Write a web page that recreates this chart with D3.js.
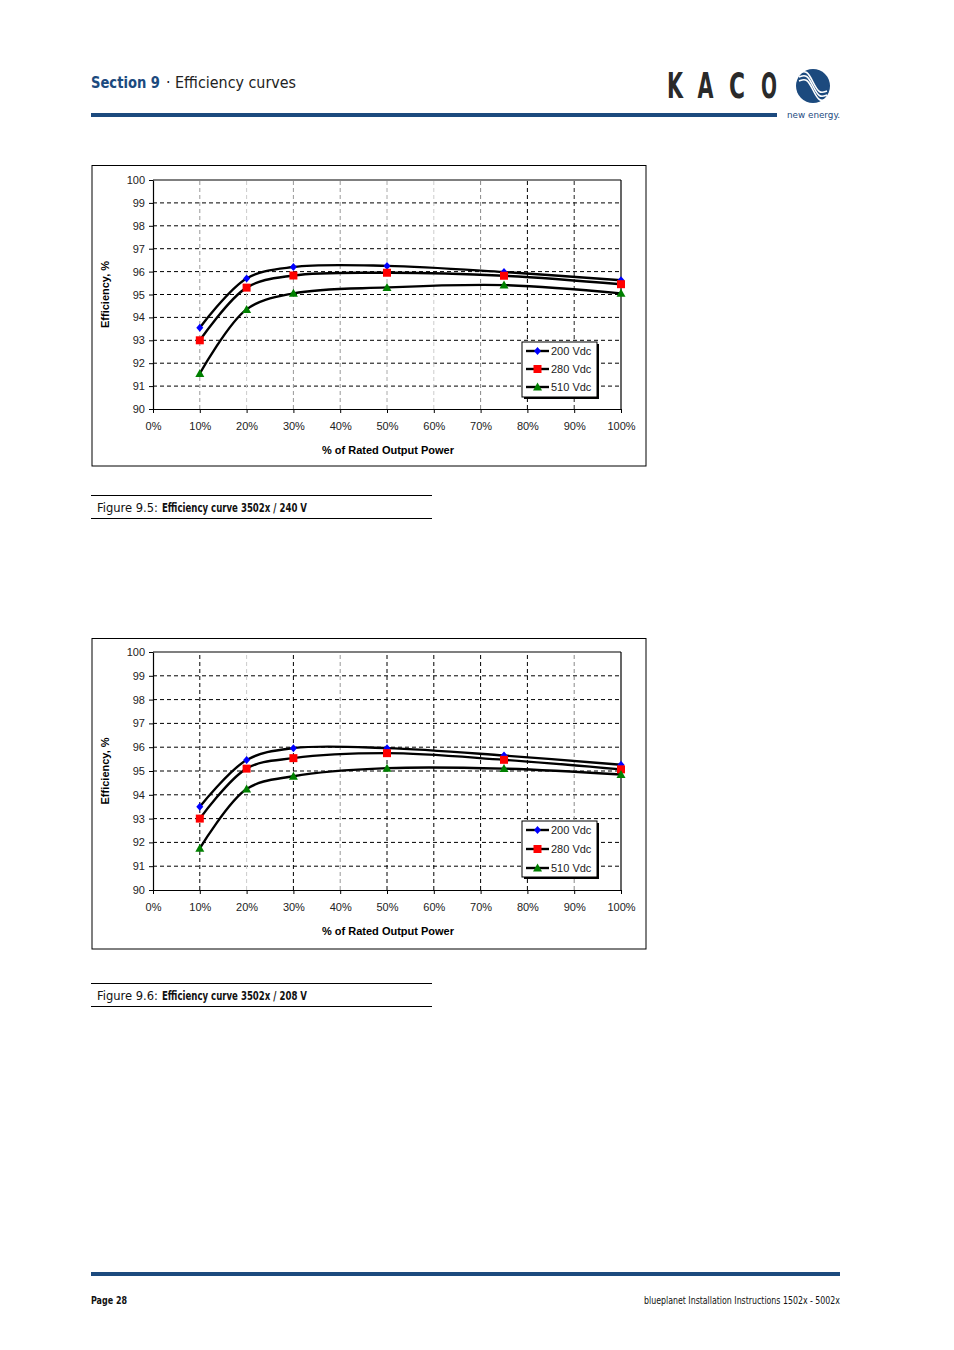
<!DOCTYPE html>
<html>
<head>
<meta charset="utf-8">
<script src="https://cdn.jsdelivr.net/npm/d3@7"></script>
<style>
  body { margin: 0; background: #fff; }
  svg { display: block; }
  .tick text { font-family: "Liberation Sans", Arial, sans-serif; font-size: 11px; fill: #222; }
</style>
</head>
<body>
<div id="page"></div>
<script>
// data
var loadPct = [10, 20, 30, 50, 75, 100];
var seriesNames = ['200 Vdc', '280 Vdc', '510 Vdc'];
var xTickVals = [0, 10, 20, 30, 40, 50, 60, 70, 80, 90, 100];
var yTickVals = [90, 91, 92, 93, 94, 95, 96, 97, 98, 99, 100];

// Figure 9.5 - 3502x / 240 V
var eff240_200 = [93.55, 95.7, 96.2, 96.25, 95.98, 95.62];
var eff240_280 = [93.0, 95.3, 95.83, 95.95, 95.82, 95.45];
var eff240_510 = [91.55, 94.35, 95.05, 95.31, 95.41, 95.05];

// Figure 9.6 - 3502x / 208 V
var eff208_200 = [93.5, 95.46, 95.96, 95.96, 95.65, 95.26];
var eff208_280 = [93.0, 95.1, 95.54, 95.75, 95.47, 95.07];
var eff208_510 = [91.75, 94.24, 94.78, 95.12, 95.1, 94.85];

var blue = '#1c4a7e';
var condensed = '"DejaVu Sans Condensed", "Liberation Sans", sans-serif';

var svg = d3.select('#page').append('svg')
            .attr('width', 954)
            .attr('height', 1350);

// text squeezed to a fixed width
function fitText(x, y, w, size, str) {
    return svg.append('text')
        .attr('x', x).attr('y', y)
        .attr('font-family', condensed)
        .attr('font-size', size)
        .attr('textLength', w)
        .attr('lengthAdjust', 'spacingAndGlyphs')
        .text(str);
}

// ---- page header ----
fitText(91, 88, 69, 15, 'Section 9').attr('font-weight', 'bold').attr('fill', blue);
fitText(166, 88, 130, 15, '· Efficiency curves').attr('fill', '#222');

svg.append('rect').attr('x', 91).attr('y', 113).attr('width', 686).attr('height', 4).attr('fill', blue);

// KACO wordmark
[667, 697.5, 729, 761].forEach(function(lx, i) {
    fitText(lx, 98, 16, 35, 'KACO'[i])
        .attr('font-weight', 'bold')
        .attr('fill', '#2a2a2a');
});

var logo = svg.append('g').attr('transform', 'translate(813,86)');
logo.append('circle').attr('r', 17).attr('fill', blue);
var wave = d3.line().curve(d3.curveBasis);
[-4, 0, 4].forEach(function(off) {
    logo.append('path')
        .attr('d', wave([[-14, -9 + off], [-6, -12 + off], [0, off], [6, 12 + off], [14, 9 + off]]))
        .attr('fill', 'none').attr('stroke', '#fff').attr('stroke-width', 1.6);
});
fitText(787, 118, 53, 9, 'new energy.').attr('fill', blue);

// ---- charts ----
function drawChart(cfg) {
    var g = svg.append('g');

    g.append('rect')
        .attr('x', cfg.frame[0]).attr('y', cfg.frame[1])
        .attr('width', cfg.frame[2] - cfg.frame[0]).attr('height', cfg.frame[3] - cfg.frame[1])
        .attr('fill', 'none').attr('stroke', '#000').attr('stroke-width', 1);

    var x = d3.scaleLinear().domain([0, 100]).range([153, 621]);
    var y = d3.scaleLinear().domain([90, 100]).range([cfg.bottom, cfg.top]);

    // gridlines
    g.selectAll('.hgrid')
        .data(yTickVals.slice(1, -1))
        .enter().append('line')
        .attr('x1', x(0)).attr('x2', x(100))
        .attr('y1', d => y(d)).attr('y2', d => y(d))
        .attr('stroke', '#000').attr('stroke-dasharray', '4,3');

    g.selectAll('.vgrid')
        .data(xTickVals.slice(1, -1))
        .enter().append('line')
        .attr('x1', d => x(d)).attr('x2', d => x(d))
        .attr('y1', y(90)).attr('y2', y(100))
        .attr('stroke', (d, i) => cfg.vShade[i]).attr('stroke-dasharray', '4,3');

    // axes
    var leftAxis = d3.axisLeft(y).tickValues(yTickVals).tickSize(4).tickSizeOuter(0).tickPadding(4);
    var bottomAxis = d3.axisBottom(x).tickValues(xTickVals).tickSize(4).tickSizeOuter(0).tickPadding(9)
                        .tickFormat(d => d + '%');

    g.append('g').attr('transform', 'translate(153,0)').call(leftAxis)
        .call(a => a.select('.domain').attr('stroke-width', 1.2));
    g.append('g').attr('transform', `translate(0, ${cfg.bottom})`).call(bottomAxis)
        .call(a => a.select('.domain').attr('stroke-width', 1.2));

    g.append('line').attr('x1', x(0)).attr('x2', x(100)).attr('y1', y(100)).attr('y2', y(100))
        .attr('stroke', '#000').attr('stroke-width', 1.2);
    g.append('line').attr('x1', x(100)).attr('x2', x(100)).attr('y1', y(90)).attr('y2', y(100))
        .attr('stroke', '#000').attr('stroke-width', 1.2);

    g.append('text')
        .attr('transform', `translate(109, ${(cfg.top + cfg.bottom) / 2}) rotate(-90)`)
        .attr('text-anchor', 'middle')
        .attr('font-family', '"Liberation Sans", Arial, sans-serif')
        .attr('font-size', 11).attr('font-weight', 'bold')
        .text('Efficiency, %');

    g.append('text')
        .attr('x', 388).attr('y', cfg.bottom + 45)
        .attr('text-anchor', 'middle')
        .attr('font-family', '"Liberation Sans", Arial, sans-serif')
        .attr('font-size', 11).attr('font-weight', 'bold')
        .text('% of Rated Output Power');

    // series
    var line = d3.line()
        .x((d, i) => x(loadPct[i]))
        .y(d => y(d))
        .curve(d3.curveCatmullRom.alpha(0.5));

    cfg.series.forEach(function(vals) {
        g.append('path')
            .attr('d', line(vals))
            .attr('fill', 'none')
            .attr('stroke', '#000')
            .attr('stroke-width', 2.4);
    });

    cfg.series.forEach(function(vals, s) {
        g.selectAll(null)
            .data(vals)
            .enter().append('path')
            .attr('transform', (d, i) => `translate(${x(loadPct[i])}, ${y(d)})`)
            .attr('d', markerPath(s))
            .attr('fill', markerColor(s));
    });

    // legend
    var lg = g.append('g').attr('transform', `translate(522, ${cfg.legendTop})`);
    lg.append('rect').attr('x', 2).attr('y', 2).attr('width', 75).attr('height', cfg.legendH).attr('fill', '#000');
    lg.append('rect').attr('width', 75).attr('height', cfg.legendH)
        .attr('fill', '#fff').attr('stroke', '#000').attr('stroke-width', 1);
    seriesNames.forEach(function(name, s) {
        var ly = 9 + s * cfg.legendStep;
        lg.append('line').attr('x1', 4).attr('x2', 27).attr('y1', ly).attr('y2', ly)
            .attr('stroke', '#000').attr('stroke-width', 2.4);
        lg.append('path').attr('transform', `translate(15.5, ${ly})`)
            .attr('d', markerPath(s)).attr('fill', markerColor(s));
        lg.append('text').attr('x', 29).attr('y', ly + 4)
            .attr('font-family', '"Liberation Sans", Arial, sans-serif')
            .attr('font-size', 11).attr('fill', '#222')
            .text(name);
    });
}

function markerPath(s) {
    if (s === 0) return 'M0,-4L3.5,0L0,4L-3.5,0Z';
    if (s === 1) return 'M-4,-4H4V4H-4Z';
    return 'M0,-4.5L4.5,3.5H-4.5Z';
}
function markerColor(s) {
    return ['#0000ff', '#ff0000', '#008000'][s];
}

drawChart({
    frame: [92, 165.5, 646, 466],
    top: 180, bottom: 409,
    series: [eff240_200, eff240_280, eff240_510],
    vShade: ['#999', '#ccc', '#999', '#999', '#aaa', '#ccc', '#888', '#000', '#222'],
    legendTop: 342, legendH: 55, legendStep: 18
});

drawChart({
    frame: [92, 638.5, 646, 949],
    top: 652, bottom: 890,
    series: [eff208_200, eff208_280, eff208_510],
    vShade: ['#000', '#ccc', '#000', '#999', '#000', '#000', '#000', '#000', '#888'],
    legendTop: 821, legendH: 56, legendStep: 19
});

// ---- captions ----
function caption(yTop, label, title) {
    svg.append('line').attr('x1', 91).attr('x2', 432).attr('y1', yTop).attr('y2', yTop)
        .attr('stroke', '#000').attr('stroke-width', 1);
    svg.append('line').attr('x1', 91).attr('x2', 432).attr('y1', yTop + 23).attr('y2', yTop + 23)
        .attr('stroke', '#000').attr('stroke-width', 1);
    fitText(97, yTop + 16, 61, 13, label).attr('fill', '#111');
    fitText(162, yTop + 16, 145, 13, title).attr('fill', '#111').attr('font-weight', 'bold');
}
caption(495.5, 'Figure 9.5:', 'Efficiency curve 3502x / 240 V');
caption(983.5, 'Figure 9.6:', 'Efficiency curve 3502x / 208 V');

// ---- footer ----
svg.append('rect').attr('x', 91).attr('y', 1272).attr('width', 749).attr('height', 4).attr('fill', blue);
fitText(91, 1304, 36, 11, 'Page 28').attr('font-weight', 'bold').attr('fill', '#111');
fitText(644, 1304, 196, 11, 'blueplanet Installation Instructions 1502x - 5002x').attr('fill', '#111');
</script>
</body>
</html>
